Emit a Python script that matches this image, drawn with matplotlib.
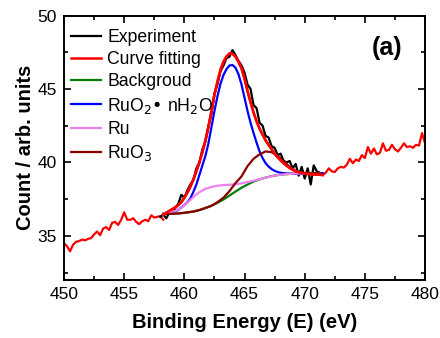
import numpy as np
import matplotlib
matplotlib.use('Agg')
import matplotlib.pyplot as plt
from matplotlib.ticker import MultipleLocator

plt.rcParams['font.family'] = ['Liberation Sans', 'DejaVu Sans']

# raw spectrum outside the fitted window (drawn red)
red_left_y = [34.5, 34.3, 33.95, 34.4, 34.6, 34.65, 34.75, 34.7, 34.8, 34.85,
              35.1, 35.3, 35.05, 35.5, 35.6, 35.4, 35.9, 35.95, 35.75, 36.1,
              36.6, 36.1, 36.1, 36.2, 35.95, 35.8, 36.0, 36.1, 36.0, 36.4,
              36.25, 36.3, 36.35, 36.1]
red_right_y = [39.15, 39.3, 39.6, 39.4, 39.35, 39.6, 39.7, 39.65, 39.85, 40.25,
               39.95, 40.2, 40.1, 40.5, 40.3, 41.05, 40.6, 40.95, 40.55, 40.65,
               41.3, 40.8, 40.85, 41.2, 40.9, 40.75, 41.0, 41.3, 41.05, 41.1,
               41.0, 41.2, 41.15, 42.0, 41.3]

# experiment inside the fitted window
exp_y = [36.3, 36.45, 36.2, 36.6, 36.5, 36.9, 37.2, 37.8, 37.6, 38.1,
         38.5, 38.8, 39.6, 40.0, 40.9, 41.4, 42.5, 43.3, 44.7, 45.3,
         46.2, 46.6, 47.1, 47.2, 47.65, 47.3, 46.9, 46.6, 46.1, 45.3,
         45.0, 43.9, 43.7, 42.7, 42.5, 41.8, 41.7, 41.1, 41.0, 40.5,
         40.6, 40.1, 40.0, 40.1, 39.6, 39.9, 39.1, 39.7, 38.9, 39.6,
         38.5, 39.8, 39.4, 39.3]

# curve fitting and RuO2 component (0.25 eV grid)
fit_y = [36.45, 36.58, 36.7, 36.82, 36.95, 37.1, 37.3, 37.6, 37.95, 38.35,
         38.85, 39.4, 40.0, 40.7, 41.5, 42.4, 43.5, 44.6, 45.5, 46.3,
         46.85, 47.2, 47.42, 47.4, 47.2, 46.85, 46.4, 45.7, 44.85, 44.1,
         43.4, 42.8, 42.3, 41.9, 41.5, 41.2, 40.9, 40.6, 40.35, 40.15,
         39.95, 39.78, 39.63, 39.5, 39.4, 39.33, 39.28, 39.25, 39.22, 39.2,
         39.18, 39.17, 39.16, 39.15]
ruo2_y = [36.5, 36.52, 36.55, 36.6, 36.68, 36.78, 36.93, 37.1, 37.28, 37.55,
          38.0, 38.5, 39.15, 39.8, 40.45, 41.3, 42.4, 43.5, 44.5, 45.35,
          45.95, 46.35, 46.6, 46.63, 46.45, 46.0, 45.3, 44.4, 43.5, 42.7,
          42.0, 41.35, 40.75, 40.3, 39.95, 39.72, 39.55, 39.43, 39.35, 39.3,
          39.27, 39.25, 39.24, 39.23, 39.22, 39.22, 39.22, 39.23, 39.24, 39.25,
          39.26, 39.27, 39.27, 39.27]

# background, Ru and RuO3 (0.5 eV grid)
bg_y = [36.5, 36.5, 36.52, 36.55, 36.6, 36.66, 36.76, 36.9, 37.05, 37.25,
        37.48, 37.75, 38.02, 38.28, 38.5, 38.7, 38.85, 38.97, 39.07, 39.14,
        39.19, 39.22, 39.24, 39.25, 39.26, 39.27, 39.27]
ru_y = [36.5, 36.58, 36.7, 36.9, 37.25, 37.65, 37.98, 38.2, 38.33, 38.42,
        38.46, 38.48, 38.52, 38.58, 38.66, 38.76, 38.86, 38.96, 39.06, 39.14,
        39.19, 39.22, 39.24, 39.25, 39.26, 39.27, 39.27]
ruo3_y = [36.5, 36.5, 36.52, 36.55, 36.6, 36.66, 36.76, 36.9, 37.05, 37.3,
          37.6, 38.05, 38.6, 39.05, 39.75, 40.25, 40.55, 40.75, 40.7, 40.45,
          40.1, 39.7, 39.42, 39.3, 39.27, 39.27, 39.27]

red_left_x = np.linspace(450.0, 458.25, len(red_left_y))
red_right_x = np.linspace(471.5, 480.0, len(red_right_y))
exp_x = np.linspace(458.0, 471.25, len(exp_y))
fit_x = np.linspace(458.25, 471.5, len(fit_y))
comp_x = np.linspace(458.25, 471.25, len(bg_y))

fig = plt.figure(figsize=(4.4, 3.38), dpi=100)
ax = fig.add_axes([0.1455, 0.1716, 0.8205, 0.7825])

ax.plot(red_left_x, red_left_y, color='red', lw=1.6)
ax.plot(red_right_x, red_right_y, color='red', lw=1.6)
ax.plot(exp_x, exp_y, color='black', lw=1.6, label='Experiment')
ax.plot(fit_x, fit_y, color='red', lw=1.8, label='Curve fitting')
ax.plot(comp_x, bg_y, color='green', lw=1.6, label='Backgroud')
ax.plot(fit_x, ruo2_y, color='blue', lw=1.6, label='RuO$_2$• nH$_2$O')
ax.plot(comp_x, ru_y, color='violet', lw=1.6, label='Ru')
ax.plot(comp_x, ruo3_y, color='#8b0000', lw=1.6, label='RuO$_3$')

# keep the fit on top of the components
ax.plot(fit_x, fit_y, color='red', lw=1.8)

ax.set_xlim(450, 480)
ax.set_ylim(32, 50)
ax.xaxis.set_major_locator(MultipleLocator(5))
ax.xaxis.set_minor_locator(MultipleLocator(2.5))
ax.yaxis.set_major_locator(MultipleLocator(5))
ax.yaxis.set_minor_locator(MultipleLocator(2.5))
ax.tick_params(which='both', direction='in', top=True, right=True,
               labelsize=12.5, width=1.2)
ax.tick_params(which='major', length=5, pad=5)
ax.tick_params(which='minor', length=3)
for s in ax.spines.values():
    s.set_linewidth(1.4)

ax.set_xlabel('Binding Energy (E) (eV)', fontsize=14.5, fontweight='bold',
              labelpad=8)
ax.set_ylabel('Count / arb. units', fontsize=14.5, fontweight='bold',
              labelpad=2)

ax.text(0.895, 0.877, '(a)', transform=ax.transAxes, fontsize=18,
        fontweight='bold', ha='center', va='center')

ax.legend(loc='upper left', frameon=False, fontsize=12.7,
          bbox_to_anchor=(0.019, 0.95), handlelength=1.7,
          handletextpad=0.35, labelspacing=0.3, borderaxespad=0,
          borderpad=0)

plt.savefig('out.png', dpi=100)
